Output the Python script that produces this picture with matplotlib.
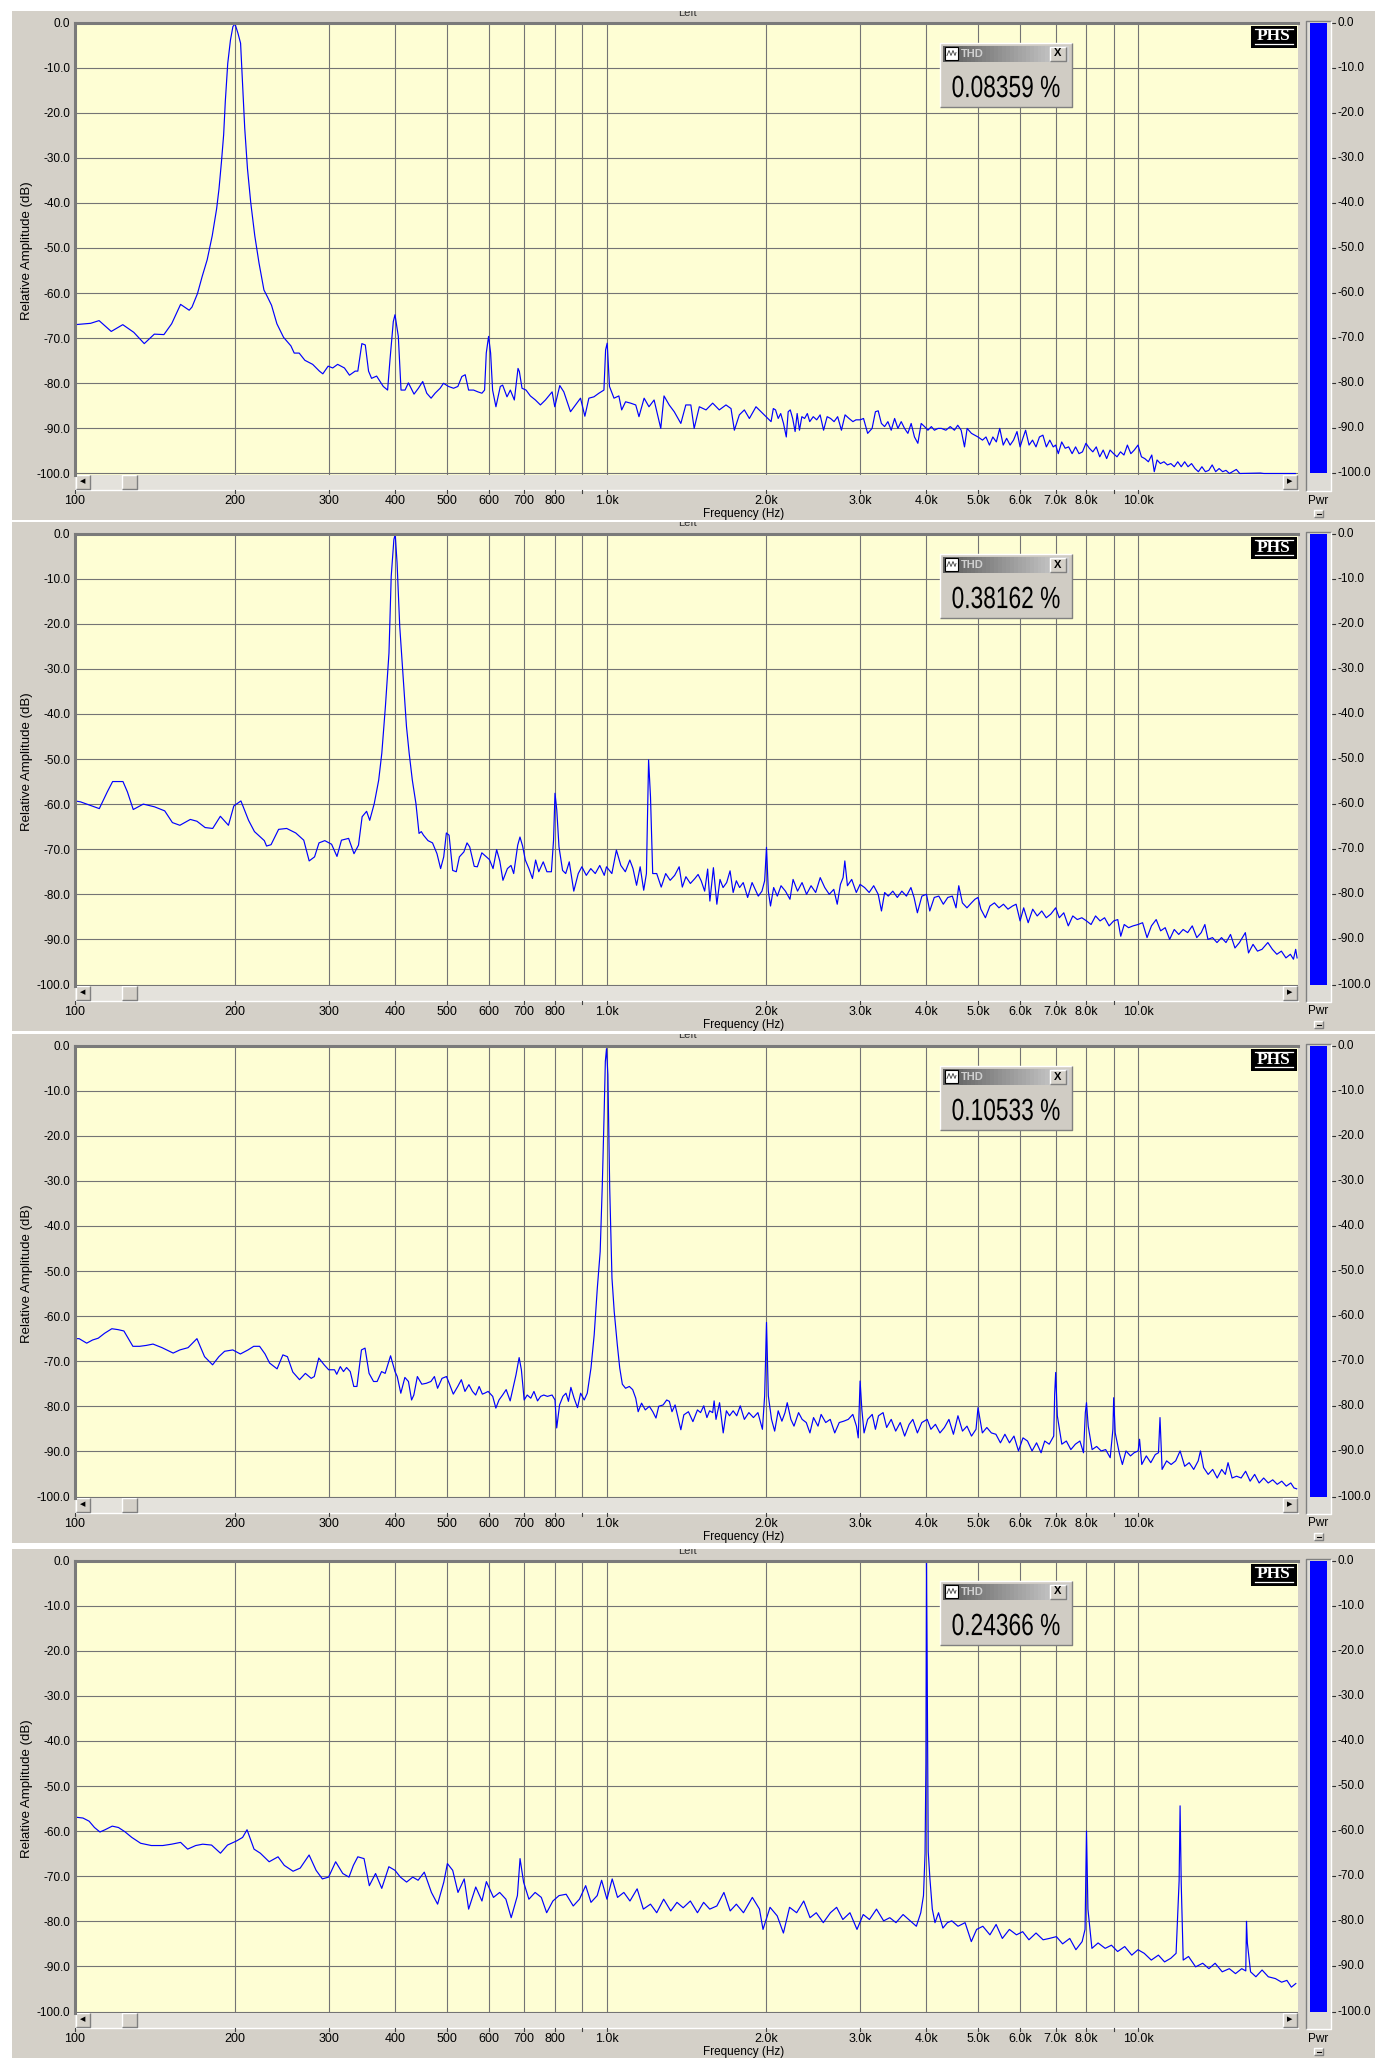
import matplotlib
matplotlib.use('Agg')
import matplotlib.pyplot as plt
from matplotlib.patches import Rectangle, PathPatch
from matplotlib.ticker import NullLocator
from matplotlib.transforms import blended_transform_factory, Affine2D
from matplotlib.textpath import TextPath
from matplotlib.font_manager import FontProperties

# spectra: (frequency Hz, relative amplitude dB)
trace_200 = [(100,-67.0),(107,-66.7),(111,-66.1),(117,-68.5),(123,-67.0),(129,-68.7),(135,-71.2),(141,-69.1),(147,-69.2),
    (152,-66.8),(158,-62.5),(164,-63.8),(166,-63.1),(170,-60.1),(173.5,-56.3),(177.3,-52.6),(181.2,-47.3),(184.7,-41.3),
    (186.6,-36.9),(188.6,-30.9),(190.4,-24.9),(191.8,-17.4),(193.8,-9.1),(196.1,-3.9),(198.2,-0.9),(200,-0.3),(202.6,-2.4),
    (204.9,-4.6),(206.7,-13.6),(208.6,-23.4),(211.1,-32.4),(214.1,-39.9),(217.9,-47.3),(221.9,-53.3),(226.7,-59.3),
    (230.1,-60.8),(234.3,-62.7),(239.8,-66.8),(246.8,-69.8),(254.8,-71.7),(258.5,-73.3),(264.1,-73.3),(270.7,-74.9),
    (280,-75.8),(288.3,-77.3),(292.6,-77.9),(299.4,-76.2),(305.4,-76.6),(312,-75.8),(321.3,-76.6),(328.4,-78.2),
    (336.6,-77.3),(340.5,-77.3),(346.5,-71.2),(351.7,-71.5),(356.7,-77.3),(361.4,-78.9),(369.4,-78.4),(380.2,-80.7),
    (387.4,-81.5),(391.4,-74.8),(397.1,-66.3),(400,-64.8),(405.8,-69.6),(410.6,-81.5),(417.8,-81.5),(423.9,-79.9),
    (434.4,-82.4),(442.7,-81.1),(451.1,-79.6),(459,-82.2),(467.7,-83.3),(475.9,-82.2),(486.4,-81.1),(493.5,-80.0),
    (504.4,-80.7),(515.5,-81.1),(525.2,-80.7),(534.4,-78.5),(542.2,-78.1),(550.2,-81.5),(562.2,-81.5),(572.9,-81.9),
    (582.9,-82.2),(589.7,-81.5),(594,-73.3),(600,-69.6),(605.3,-73.3),(610.5,-81.5),(619.4,-85.2),(631.2,-80.7),
    (637.7,-80.4),(649.8,-83.0),(659.3,-81.5),(670.8,-83.7),(681.6,-76.7),(685.6,-77.4),(693.5,-81.1),(705.7,-81.5),
    (719,-82.8),(734.9,-83.7),(751,-84.8),(767.5,-83.7),(790.1,-81.9),(799.2,-85.2),(816.8,-80.5),(831.2,-81.9),
    (855.6,-86.3),(874.3,-84.8),(893.5,-83.3),(910.5,-87.3),(926.5,-83.3),(946.9,-83.0),(967.6,-82.2),(988.9,-81.5),
    (996.1,-72.6),(1003,-71.1),(1013,-80.7),(1033,-83.3),(1055,-82.8),(1068,-85.9),(1086,-84.1),(1110,-84.4),(1135,-84.8),
    (1151,-87.4),(1177,-83.3),(1202,-85.2),(1229,-83.7),(1265,-90.0),(1283,-82.8),(1312,-84.8),(1341,-86.3),(1380,-88.9),
    (1410,-84.8),(1441,-84.8),(1462,-90.0),(1495,-85.2),(1539,-85.9),(1584,-84.4),(1630,-85.9),(1678,-84.8),(1715,-85.6),
    (1740,-90.4),(1778,-87.0),(1817,-85.9),(1857,-87.8),(1911,-85.2),(1953,-86.3),(1996,-87.4),(2040,-88.5),(2060,-85.6),
    (2080,-85.9),(2104,-87.8),(2127,-86.7),(2153,-88.9),(2179,-91.9),(2197,-86.3),(2217,-85.9),(2240,-87.8),(2264,-90.7),
    (2284,-86.7),(2307,-90.4),(2331,-87.4),(2359,-87.8),(2387,-86.7),(2412,-88.5),(2449,-87.4),(2486,-88.1),(2523,-87.0),
    (2561,-90.4),(2601,-87.4),(2640,-87.8),(2680,-88.5),(2722,-87.4),(2767,-90.4),(2811,-87.0),(2860,-87.8),(2908,-88.5),
    (2947,-88.1),(3000,-88.1),(3045,-87.8),(3100,-91.1),(3160,-90.0),(3206,-86.3),(3245,-86.1),(3290,-88.9),(3336,-89.6),
    (3384,-88.5),(3433,-90.4),(3484,-87.8),(3534,-90.0),(3585,-88.5),(3637,-90.0),(3690,-91.1),(3743,-88.9),(3797,-91.9),
    (3853,-93.3),(3909,-88.9),(3966,-89.6),(4025,-90.4),(4085,-89.6),(4140,-90.4),(4206,-90.0),(4267,-90.0),(4350,-90.4),
    (4433,-89.6),(4515,-90.4),(4580,-89.3),(4648,-90.4),(4716,-94.1),(4770,-90.0),(4860,-91.1),(5000,-91.9),(5098,-92.6),
    (5176,-91.9),(5254,-93.7),(5332,-91.9),(5413,-93.0),(5494,-90.0),(5577,-93.7),(5660,-92.2),(5746,-93.7),(5832,-92.6),
    (5920,-90.7),(6000,-94.1),(6072,-92.2),(6145,-90.4),(6238,-93.7),(6332,-92.6),(6428,-94.1),(6525,-91.9),(6623,-91.5),
    (6723,-94.1),(6824,-92.6),(6926,-94.1),(7000,-93.7),(7080,-95.6),(7185,-93.0),(7295,-94.4),(7405,-94.1),(7517,-95.6),
    (7630,-94.1),(7745,-95.6),(7862,-95.2),(7980,-93.3),(8100,-94.4),(8222,-95.2),(8346,-94.1),(8472,-96.3),(8600,-94.8),
    (8730,-96.7),(8860,-94.8),(8995,-95.6),(9130,-96.3),(9270,-95.2),(9410,-95.9),(9550,-93.7),(9695,-95.6),(9840,-94.8),
    (10000,-93.7),(10150,-96.3),(10300,-96.7),(10460,-97.4),(10615,-95.9),(10730,-99.6),(10860,-97.0),(11020,-97.8),
    (11190,-97.4),(11360,-98.1),(11530,-97.8),(11700,-98.5),(11880,-97.4),(12060,-98.5),(12240,-97.4),(12420,-98.5),
    (12610,-97.8),(12800,-98.9),(12990,-99.6),(13190,-98.5),(13390,-99.6),(13590,-99.3),(13790,-98.1),(14000,-99.6),
    (14210,-98.9),(14430,-99.6),(14640,-99.3),(14860,-100),(15310,-99.1),(15540,-100),(16990,-99.9),(17250,-100),(19770,-100)]

trace_400 = [(100,-59.3),(102.4,-59.5),(106.4,-60.2),(111.1,-61.0),(115,-57.3),(117.7,-55.0),(123.1,-55.0),(125.5,-57.3),
    (128.7,-61.2),(134.4,-60.0),(141.1,-60.6),(147.5,-61.5),(152.5,-64.1),(157.5,-64.7),(164.8,-63.4),(169.6,-63.8),
    (175.7,-65.2),(181.6,-65.4),(187.7,-62.7),(194.4,-64.7),(199,-60.4),(205.2,-59.3),(212.1,-63.6),(217.6,-66.1),
    (227.1,-68.1),(229.3,-69.3),(233.8,-69.0),(241.6,-65.6),(250.2,-65.4),(260.2,-66.4),(269.4,-68.0),(275.8,-72.6),
    (282.3,-71.7),(287.8,-68.6),(295.1,-68.1),(303.9,-68.9),(311.1,-71.6),(317.2,-68.0),(327.2,-67.6),(334.9,-71.0),
    (341.5,-69.1),(346.9,-62.8),(353.7,-61.6),(358.5,-63.6),(365.6,-59.9),(372.7,-54.7),(377.8,-48.7),(383.7,-38.4),
    (389.7,-26.5),(393.5,-9.5),(398.1,-1.3),(400.4,-0.2),(403.6,-6.5),(408.3,-20.6),(414.7,-32.4),(420.4,-42.8),
    (425.3,-48.7),(431.2,-54.7),(438,-59.9),(443.9,-66.5),(448.3,-66.1),(452.6,-66.9),(461.5,-68.1),(470.6,-68.6),
    (479.8,-71.0),(487.4,-74.3),(494,-71.7),(499.7,-66.4),(505.6,-66.9),(513.5,-74.7),(521.6,-75.0),(528.7,-71.7),
    (539.1,-70.6),(546.5,-68.6),(552.9,-69.5),(563.8,-73.8),(571.5,-73.9),(582.7,-70.8),(594.1,-71.7),(602.2,-72.3),
    (611.7,-74.3),(621.3,-70.1),(629.8,-72.6),(638.5,-76.9),(651,-74.3),(661.2,-73.6),(668.9,-75.4),(680.7,-69.1),
    (687.4,-67.3),(695.3,-69.3),(703.5,-72.4),(714.5,-74.3),(725.6,-76.5),(735.6,-72.4),(745.7,-75.0),(760.3,-72.8),
    (772.5,-75.0),(787.6,-75.0),(795,-68.0),(800,-57.6),(806.2,-61.3),(814,-69.5),(826.7,-74.7),(838,-75.4),(851,-72.8),
    (867.8,-79.3),(884.8,-75.4),(898.7,-73.9),(916.2,-75.8),(934.2,-74.3),(952.5,-75.4),(971.2,-73.6),(990.3,-75.8),
    (1000,-73.9),(1023.5,-75.4),(1043.8,-70.2),(1064.1,-73.6),(1085,-75.0),(1106.4,-72.4),(1121.6,-74.3),(1139.1,-78.0),
    (1157,-73.9),(1174.9,-79.1),(1188.8,-75.4),(1195,-61.3),(1200,-50.2),(1210,-58.4),(1221.6,-75.4),(1243,-75.4),
    (1267.5,-78.4),(1292.3,-75.4),(1317.6,-76.9),(1343.6,-75.8),(1370,-73.9),(1388.8,-78.4),(1410.6,-76.1),(1438.3,-77.6),
    (1466.5,-76.5),(1487,-75.6),(1507,-77.0),(1530,-79.3),(1550,-74.4),(1565,-81.5),(1589,-74.1),(1613,-82.2),(1635,-76.7),
    (1657,-78.5),(1683,-77.4),(1708,-74.8),(1731,-79.6),(1755,-77.0),(1780,-78.5),(1808,-77.4),(1843,-80.7),(1879,-77.4),
    (1930,-80.4),(1961,-79.3),(1984,-77.0),(2000,-69.6),(2016,-79.3),(2035,-82.6),(2063,-78.5),(2096,-80.4),(2130,-78.1),
    (2171,-79.3),(2214,-81.1),(2244,-76.7),(2288,-79.3),(2333,-77.4),(2379,-80.0),(2426,-78.1),(2475,-79.6),(2524,-76.3),
    (2574,-78.5),(2625,-80.0),(2677,-78.9),(2717,-82.2),(2755,-77.8),(2787,-76.3),(2808,-72.6),(2840,-78.1),(2893,-76.7),
    (2951,-79.6),(3000,-77.8),(3059,-78.5),(3120,-79.6),(3182,-78.1),(3245,-80.0),(3291,-83.7),(3337,-79.6),(3389,-80.4),
    (3457,-79.3),(3525,-80.7),(3595,-79.3),(3667,-80.4),(3739,-78.5),(3790,-80.7),(3845,-84.1),(3921,-80.4),(4000,-80.0),
    (4057,-83.7),(4137,-80.7),(4219,-80.4),(4302,-82.2),(4387,-80.7),(4474,-80.4),(4546,-83.0),(4600,-78.1),(4673,-81.9),
    (4766,-83.0),(4860,-81.9),(4934,-81.1),(5000,-80.7),(5063,-83.3),(5163,-85.2),(5265,-82.6),(5369,-81.9),(5475,-83.0),
    (5583,-82.2),(5693,-83.3),(5806,-82.6),(5897,-82.2),(6000,-85.9),(6094,-83.0),(6214,-86.3),(6337,-83.3),(6462,-84.8),
    (6590,-83.7),(6720,-85.2),(6853,-84.4),(7000,-83.0),(7110,-85.2),(7250,-84.1),(7393,-87.0),(7539,-84.8),(7688,-85.6),
    (7840,-85.2),(8000,-85.9),(8160,-86.7),(8320,-84.8),(8485,-85.9),(8652,-85.2),(8823,-87.0),(9000,-85.9),(9160,-85.6),
    (9280,-89.3),(9420,-86.7),(9600,-87.4),(9790,-87.0),(10000,-86.7),(10200,-86.3),(10400,-89.6),(10600,-87.0),
    (10820,-85.6),(11030,-88.1),(11250,-87.4),(11470,-90.0),(11700,-87.8),(11930,-88.9),(12160,-87.8),(12400,-88.5),
    (12650,-87.0),(12900,-89.6),(13150,-88.5),(13360,-86.7),(13540,-90.0),(13810,-89.6),(14080,-90.7),(14360,-89.6),
    (14640,-90.7),(14930,-88.9),(15220,-91.9),(15520,-90.7),(15920,-88.5),(16140,-93.0),(16460,-91.1),(16780,-92.6),
    (17110,-92.2),(17550,-90.7),(17900,-92.2),(18250,-93.3),(18610,-92.6),(18980,-94.1),(19350,-93.3),(19610,-94.4),
    (19800,-92.2),(19920,-94.1)]

trace_1k = [(100,-65.0),(101.8,-65.0),(105.2,-66.0),(107.9,-65.3),(110.6,-64.9),(113.7,-63.8),(117.3,-62.8),(120.5,-63.0),
    (123.6,-63.3),(128.5,-66.7),(132.3,-66.7),(136.2,-66.5),(140.2,-66.2),(145.8,-67.0),(153,-68.2),(157.5,-67.5),
    (163.2,-67.0),(169.6,-65.0),(175.3,-69.0),(181.5,-70.8),(186.5,-69.0),(191.2,-67.8),(198.1,-67.5),(204.7,-68.4),
    (211.6,-67.5),(216.9,-66.7),(222.5,-66.7),(227.8,-68.4),(232.3,-70.4),(240,-71.7),(246.1,-68.6),(251,-69.0),
    (256.9,-72.4),(264.5,-74.1),(271.3,-72.7),(278.2,-73.8),(282,-73.4),(287.5,-69.3),(294.3,-70.8),(300.1,-71.9),
    (307.8,-71.9),(310.8,-72.9),(315.6,-71.2),(320,-72.3),(324.3,-71.4),(329.5,-72.3),(334.6,-75.6),(339.2,-75.6),
    (345.9,-67.5),(351.3,-67.1),(357.5,-72.7),(364.5,-74.5),(370.2,-74.5),(377.4,-72.3),(383.3,-72.7),(392.4,-68.8),
    (400,-72.3),(403.9,-73.4),(410.2,-77.1),(417.5,-73.6),(424,-74.5),(429.8,-78.6),(434,-77.5),(440.7,-73.4),(449.3,-75.1),
    (458.1,-74.9),(467.3,-74.5),(474.5,-73.4),(481,-76.0),(490.4,-73.8),(500,-73.4),(507,-75.2),(514.9,-77.3),(525,-75.6),
    (533.2,-74.1),(541.6,-76.7),(551,-75.2),(559.6,-76.7),(567.3,-77.5),(576,-75.6),(584,-77.3),(589.7,-77.1),(598.8,-76.7),
    (610.8,-77.8),(619.2,-80.4),(627.7,-78.6),(637.5,-77.5),(647.5,-76.3),(658.8,-78.8),(669.2,-75.2),(675.7,-73.0),
    (684.9,-69.2),(691.6,-71.9),(700,-78.6),(709.3,-77.5),(720.4,-78.2),(730.3,-76.7),(741.7,-78.8),(751.8,-77.8),
    (762.1,-77.5),(774,-77.8),(790,-77.5),(800,-78.6),(806,-84.8),(816,-79.7),(828,-77.8),(839,-77.1),(848,-78.9),
    (857,-75.8),(869,-78.2),(882,-80.3),(894,-77.1),(908,-78.6),(920,-77.1),(935,-71.5),(948,-64.2),(961,-53.8),(973,-45.7),
    (982,-30.9),(990,-14.6),(995,-3.5),(1000,-0.7),(1006,-6.5),(1014,-31.6),(1024,-51.6),(1034,-59.0),(1048,-66.4),
    (1059,-71.5),(1071,-75.1),(1086,-76.0),(1104,-75.6),(1120,-76.3),(1135,-78.2),(1147,-81.2),(1164,-79.3),(1183,-80.8),
    (1204,-80.0),(1222,-81.2),(1239,-82.6),(1254,-80.0),(1278,-79.7),(1298,-78.6),(1313,-78.9),(1328,-81.2),(1346,-79.7),
    (1364,-82.6),(1380,-85.2),(1398,-81.9),(1426,-81.2),(1454,-83.4),(1483,-80.8),(1503,-81.4),(1524,-79.9),(1545,-82.5),
    (1563,-81.0),(1584,-81.4),(1594,-78.8),(1607,-82.9),(1632,-79.2),(1658,-85.9),(1681,-81.0),(1704,-82.1),(1731,-81.0),
    (1758,-82.1),(1785,-79.9),(1817,-82.9),(1853,-81.4),(1890,-82.5),(1927,-81.4),(1965,-85.1),(1984,-77.7),(2000,-61.4),
    (2016,-77.7),(2044,-82.9),(2072,-85.5),(2104,-81.0),(2138,-83.3),(2167,-81.4),(2188,-79.2),(2223,-82.9),(2253,-84.4),
    (2298,-81.4),(2334,-82.9),(2376,-83.6),(2414,-85.9),(2452,-82.5),(2500,-84.4),(2534,-81.8),(2585,-83.6),(2636,-82.9),
    (2688,-85.9),(2741,-83.6),(2795,-83.3),(2850,-82.9),(2907,-81.8),(2953,-84.4),(2976,-87.0),(3000,-74.4),(3023,-80.7),
    (3052,-85.9),(3100,-82.9),(3162,-81.8),(3206,-85.1),(3249,-82.1),(3314,-81.4),(3366,-84.7),(3433,-82.9),(3500,-85.5),
    (3570,-83.6),(3639,-86.6),(3711,-84.0),(3770,-82.9),(3845,-85.9),(3920,-83.6),(4012,-82.9),(4077,-85.1),(4158,-84.0),
    (4240,-85.9),(4323,-84.7),(4408,-82.9),(4495,-86.2),(4584,-82.1),(4675,-85.5),(4767,-84.4),(4861,-86.6),(4957,-85.1),
    (5000,-80.3),(5095,-85.9),(5195,-84.7),(5298,-85.9),(5403,-86.2),(5510,-88.1),(5618,-86.2),(5730,-88.1),(5843,-86.6),
    (5958,-89.9),(6076,-87.0),(6196,-87.7),(6319,-89.9),(6444,-88.1),(6571,-90.3),(6675,-87.7),(6807,-88.4),(6941,-86.6),
    (6970,-77.3),(7000,-72.5),(7050,-82.1),(7189,-88.4),(7331,-87.7),(7476,-89.6),(7624,-88.4),(7775,-87.7),(7897,-90.3),
    (7960,-81.4),(8000,-79.2),(8060,-84.4),(8197,-89.6),(8359,-88.9),(8525,-89.9),(8693,-89.6),(8865,-91.4),(8970,-85.1),
    (9000,-78.1),(9060,-85.9),(9219,-90.3),(9345,-92.9),(9493,-89.9),(9680,-91.0),(9833,-90.3),(10007,-89.9),(10067,-87.3),
    (10165,-92.9),(10366,-91.0),(10569,-92.5),(10778,-90.7),(10928,-90.3),(11000,-82.5),(11100,-94.0),(11320,-92.1),
    (11544,-92.9),(11772,-92.1),(12002,-89.9),(12240,-93.3),(12482,-92.5),(12729,-94.0),(12980,-92.1),(13109,-89.9),
    (13289,-93.6),(13552,-95.1),(13820,-94.0),(14093,-95.9),(14371,-94.0),(14598,-95.1),(14771,-92.5),(15032,-95.9),
    (15330,-95.5),(15633,-95.9),(15939,-94.4),(16254,-96.6),(16575,-95.1),(16903,-97.0),(17237,-95.9),(17578,-97.0),
    (17925,-96.3),(18279,-97.3),(18641,-96.6),(19009,-97.7),(19385,-97.0),(19653,-98.1),(19885,-98.3)]

trace_4k = [(100,-56.9),(103.5,-57.1),(106.3,-57.8),(108.8,-59.2),(111.4,-60.2),(113.9,-59.7),(117.5,-58.9),(120.7,-59.2),
    (124,-60.1),(127.9,-61.4),(132.9,-62.7),(139.2,-63.2),(146.3,-63.2),(152,-62.9),(158,-62.5),(162.9,-64.0),(168.7,-63.2),
    (173.9,-62.9),(180.7,-63.1),(187.8,-64.9),(193.6,-63.1),(201.2,-62.2),(206.7,-61.4),(210.7,-59.7),(217.2,-64.0),
    (223.2,-64.9),(231.9,-66.8),(241,-65.7),(247.6,-67.6),(257.2,-68.9),(265.3,-68.2),(275.7,-65.3),(284.2,-68.7),
    (292,-70.6),(300,-70.2),(309.3,-66.8),(319,-69.4),(327.7,-70.2),(334,-67.6),(340.5,-65.7),(349.8,-66.1),(357.9,-72.1),
    (367.7,-69.4),(377.7,-72.7),(389.5,-67.9),(400,-68.7),(409.4,-70.2),(420.6,-71.3),(432,-70.2),(442.1,-70.9),
    (454.1,-69.1),(468.4,-73.6),(481.1,-76.2),(494.2,-71.3),(501.9,-67.2),(513.6,-68.7),(525.5,-73.6),(539.9,-70.6),
    (550.3,-77.3),(567.5,-72.4),(583,-75.5),(594.3,-71.2),(612.8,-74.7),(629.5,-73.6),(646.7,-75.1),(661.7,-79.2),
    (679.8,-74.3),(687.6,-66.1),(698.2,-71.3),(714.5,-75.1),(734,-73.6),(754,-74.7),(771.6,-78.1),(792.7,-75.5),
    (814.2,-74.3),(839.6,-74.0),(865.8,-76.6),(889.4,-75.1),(913.7,-72.1),(935,-75.8),(960.5,-74.3),(979,-70.9),
    (1002,-75.1),(1025,-70.6),(1049,-74.7),(1078,-73.6),(1107,-75.5),(1142,-72.8),(1173,-77.3),(1210,-76.2),(1243,-78.1),
    (1281,-75.1),(1321,-77.7),(1357,-75.8),(1394,-77.0),(1438,-75.5),(1483,-78.1),(1523,-75.8),(1564,-77.3),(1613,-76.6),
    (1663,-73.6),(1709,-77.7),(1755,-76.2),(1810,-78.1),(1881,-74.7),(1940,-77.3),(1970,-81.8),(2031,-76.9),(2095,-78.8),
    (2152,-82.6),(2210,-76.9),(2279,-78.1),(2350,-75.5),(2415,-79.2),(2481,-78.1),(2558,-80.3),(2638,-78.1),(2710,-76.9),
    (2784,-79.6),(2871,-78.1),(2960,-81.8),(3041,-78.5),(3124,-79.6),(3221,-77.3),(3322,-79.9),(3412,-79.2),(3505,-80.3),
    (3614,-78.5),(3727,-79.9),(3828,-81.1),(3902,-78.1),(3948,-74.3),(3975,-65.0),(3990,-45.0),(4000,-0.5),(4010,-19.0),
    (4030,-64.6),(4060,-70.6),(4102,-77.3),(4150,-80.3),(4214,-78.1),(4295,-81.5),(4379,-80.3),(4463,-79.9),(4585,-81.1),
    (4728,-80.3),(4857,-84.5),(4970,-81.8),(5106,-81.1),(5265,-83.0),(5408,-80.7),(5556,-83.8),(5728,-81.8),(5907,-83.0),
    (6068,-82.3),(6234,-84.1),(6429,-82.6),(6629,-84.1),(6810,-83.8),(7022,-83.4),(7214,-85.0),(7440,-83.8),(7641,-86.3),
    (7850,-84.5),(7950,-81.8),(8000,-60.0),(8050,-77.3),(8190,-86.0),(8412,-84.8),(8675,-86.0),(8913,-85.3),(9155,-86.7),
    (9441,-85.6),(9734,-87.5),(10000,-86.3),(10273,-87.1),(10593,-88.6),(10924,-87.5),(11220,-89.0),(11526,-88.2),
    (11794,-87.1),(11950,-71.0),(12000,-54.4),(12060,-71.7),(12163,-88.6),(12447,-87.8),(12834,-90.1),(13235,-89.3),
    (13596,-90.5),(13966,-89.3),(14403,-91.2),(14852,-90.5),(15257,-91.6),(15673,-90.5),(15950,-91.0),(16000,-80.0),
    (16060,-84.8),(16284,-91.2),(16665,-92.3),(17118,-90.8),(17585,-92.3),(18134,-92.7),(18629,-93.5),(19063,-93.1),
    (19433,-94.6),(19810,-93.8)]

thd_text = ['0.08359 %', '0.38162 %', '0.10533 %', '0.24366 %']
pwr_db = [0.0, 0.0, 0.0, 0.0]          # level meter, full scale in every shot

tick_hz = [100, 200, 300, 400, 500, 600, 700, 800, 900, 1000, 2000, 3000, 4000, 5000, 6000, 7000, 8000, 9000, 10000]
tick_lbl = ['100', '200', '300', '400', '500', '600', '700', '800', '', '1.0k', '2.0k', '3.0k', '4.0k', '5.0k',
            '6.0k', '7.0k', '8.0k', '', '10.0k']
db_ticks = [0, -10, -20, -30, -40, -50, -60, -70, -80, -90, -100]

# layout in pixels of the 1384x2070 screenshot
W, H = 1384, 2070
PL, PR = 75, 1298
PH = 451
TOPS = [22.5, 533.5, 1045.5, 1560.5]

FRAME = '#d4d0c8'
YELLOW = '#fefed4'
GRID = '#747474'

plt.rcParams['font.family'] = ['Liberation Sans', 'DejaVu Sans']


def frac(x, y, w, h):
    return [x / W, 1 - (y + h) / H, w / W, h / H]


def bevel(axis, x, y, w, h, fc, raised=True, z=4):
    light, dark = ('white', '#808080') if raised else ('#808080', 'white')
    axis.add_patch(Rectangle((x, y), w, h, fc=fc, ec='none', zorder=z))
    axis.plot([x, x, x + w], [y + h, y, y], color=light, lw=1, zorder=z + 0.1, solid_capstyle='butt')
    axis.plot([x, x + w, x + w], [y + h, y + h, y], color=dark, lw=1, zorder=z + 0.1, solid_capstyle='butt')


def narrow_text(axis, cx, cy, s, height, squeeze, z):
    # tall, condensed readout digits (the meter uses a narrow face)
    tp = TextPath((0, 0), s, size=height / 0.716, prop=FontProperties(family='Liberation Sans'))
    ext = tp.get_extents()
    tr = (Affine2D().translate(-(ext.x0 + ext.x1) / 2, -(ext.y0 + ext.y1) / 2)
          .scale(squeeze, -1).translate(cx, cy) + axis.transData)
    axis.add_patch(PathPatch(tp, transform=tr, fc='black', ec='none', zorder=z))


fig = plt.figure(figsize=(W / 100, H / 100), dpi=100, facecolor='white')
bg = fig.add_axes([0, 0, 1, 1])
bg.set_xlim(0, W)
bg.set_ylim(H, 0)
bg.axis('off')

for top, trace, lvl in zip(TOPS, [trace_200, trace_400, trace_1k, trace_4k], pwr_db):
    frame = Rectangle((12, top - 12), 1363, 509, fc=FRAME, ec='none', zorder=1)
    bg.add_patch(frame)
    lab = bg.text(687, top - 10, 'Left', fontsize=8, ha='center', va='center', color='#303030', zorder=2,
                  clip_on=True)
    lab.set_clip_path(frame)

    ax = fig.add_axes(frac(PL, top, PR - PL, PH * 1.004))
    ax.set_facecolor(YELLOW)
    ax.set_xscale('log')
    ax.set_xlim(100, 20000)
    ax.set_ylim(-100.4, 0)
    hz, db = zip(*sorted(trace))
    ax.plot(hz, db, color='#0000ff', lw=0.85)
    ax.set_xticks(tick_hz)
    ax.set_xticklabels(tick_lbl)
    ax.xaxis.set_minor_locator(NullLocator())
    ax.set_yticks(db_ticks)
    ax.set_yticklabels([f'{v:.1f}' for v in db_ticks])
    ax.tick_params(axis='x', length=0, labelsize=9, pad=14.5)
    ax.tick_params(axis='y', length=0, labelsize=8.5, pad=3.6)
    ax.grid(True, color=GRID, lw=0.8)
    for s in ['right', 'bottom']:
        ax.spines[s].set_visible(False)
    for s in ['top', 'left']:
        ax.spines[s].set_color('#7a7a7a')
        ax.spines[s].set_linewidth(2.2)

    # scrollbar under the plot
    bg.add_patch(Rectangle((PL, top + 452), PR - PL, 15, fc='#e4e2dc', ec='none', zorder=3))
    bg.plot([PL, PR], [top + 467, top + 467], color='white', lw=1, zorder=3)
    bevel(bg, PL + 1, top + 452, 14, 14, FRAME)
    bg.text(PL + 8, top + 459, '◀', fontsize=5, ha='center', va='center', zorder=5)
    bevel(bg, 122, top + 452, 15, 14, FRAME)
    bevel(bg, PR - 15, top + 452, 14, 14, FRAME)
    bg.text(PR - 8, top + 459, '▶', fontsize=5, ha='center', va='center', zorder=5)

    # frequency tick marks below the scrollbar
    trx = blended_transform_factory(ax.transData, bg.transData)
    for f in tick_hz:
        bg.plot([f, f], [top + 467.5, top + 470], transform=trx, color='#404040', lw=0.8, zorder=3)

    bg.text(27, top + 228, 'Relative Amplitude (dB)', rotation=90, fontsize=9.5, ha='center', va='center', zorder=3)
    bg.text(744, top + 491.5, 'Frequency (Hz)', fontsize=8.5, ha='center', va='center', zorder=3)

    # power meter on the right
    bevel(bg, 1306, top - 2, 25, 470, '#dedcd6', raised=False, z=3)
    trm = blended_transform_factory(bg.transData, ax.transData)
    bg.add_patch(Rectangle((1310, -100), 17, lvl + 100, transform=trm, fc='#0000ff', ec='none', zorder=4))
    for v in db_ticks:
        bg.plot([1331, 1335], [v, v], transform=trm, color='#303030', lw=0.8, zorder=3)
        bg.text(1337, v, f'{v:.1f}', transform=trm, fontsize=8.5, ha='left', va='center', zorder=3)
    bg.text(1318, top + 478, 'Pwr', fontsize=8.5, ha='center', va='center', zorder=3)
    bevel(bg, 1314, top + 487, 9, 7, FRAME, z=3)
    bg.plot([1316.5, 1320.5], [top + 491, top + 491], color='black', lw=0.8, zorder=4)

# THD readouts and logos sit above the plots
fg = fig.add_axes([0, 0, 1, 1])
fg.set_xlim(0, W)
fg.set_ylim(H, 0)
fg.axis('off')

for top, thd in zip(TOPS, thd_text):
    x0, y0 = 940, top + 20
    bevel(fg, x0, y0, 132, 64, '#d0ccc4', z=5)
    n = 32
    for i in range(n):
        c = 0.36 + 0.46 * i / (n - 1)
        fg.add_patch(Rectangle((x0 + 3 + i * 126 / n, y0 + 3), 126 / n + 0.4, 16, fc=(c, c, c), ec='none', zorder=6))
    fg.add_patch(Rectangle((x0 + 5, y0 + 4.5), 13, 13, fc='white', ec='black', lw=0.8, zorder=7))
    fg.plot([x0 + 7, x0 + 9, x0 + 11, x0 + 13, x0 + 15, x0 + 16],
            [y0 + 13, y0 + 8, y0 + 13, y0 + 8, y0 + 13, y0 + 10], color='#404040', lw=0.6, zorder=8)
    fg.text(x0 + 21, y0 + 11.5, 'THD', fontsize=8, fontweight='bold', color='#d0d0d0', ha='left', va='center', zorder=8)
    bevel(fg, x0 + 110, y0 + 4, 16, 14, '#d4d0c8', z=7)
    fg.text(x0 + 118, y0 + 11, 'X', fontsize=8, fontweight='bold', ha='center', va='center', zorder=9)
    narrow_text(fg, x0 + 66, y0 + 44, thd, 22, 0.74, 8)

    fg.add_patch(Rectangle((1251, top + 3), 46, 22, fc='black', ec='none', zorder=5))
    fg.plot([1255, 1293], [top + 6, top + 6], color='white', lw=0.9, zorder=6)
    fg.plot([1255, 1293], [top + 21.5, top + 21.5], color='white', lw=0.9, zorder=6)
    fg.text(1274, top + 14, 'PHS', fontsize=12.5, fontweight='bold', family=['Liberation Serif', 'DejaVu Serif'],
            color='white', ha='center', va='center', zorder=6)

fig.savefig('out.png', dpi=100, facecolor='white')
